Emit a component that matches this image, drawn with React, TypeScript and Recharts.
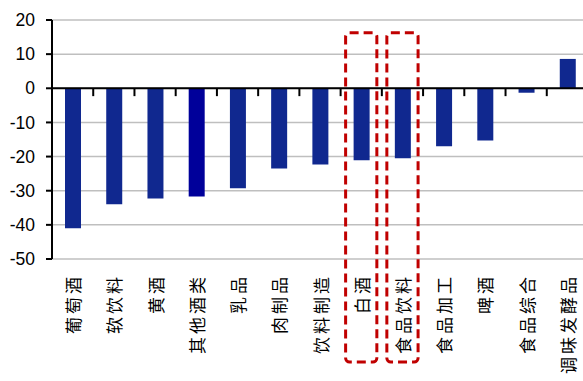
import { BarChart, Bar, XAxis, YAxis, CartesianGrid, ReferenceLine, ReferenceArea, Cell } from 'recharts';

// ---------------------------------------------------------------------------
// Data
// ---------------------------------------------------------------------------

const categories = [
  '葡萄酒',
  '软饮料',
  '黄酒',
  '其他酒类',
  '乳品',
  '肉制品',
  '饮料制造',
  '白酒',
  '食品饮料',
  '食品加工',
  '啤酒',
  '食品综合',
  '调味发酵品',
];

const changes = [-41, -34, -32.3, -31.7, -29.3, -23.5, -22.3, -21.1, -20.5, -17, -15.3, -1.3, 8.6];

const yTicks = [-50, -40, -30, -20, -10, 0, 10, 20];

// sectors boxed with the red dashed frame
const highlighted = ['白酒', '食品饮料'];

// the one sector drawn in a deeper blue
const deepSector = '其他酒类';

const data = categories.map((name, i) => ({ name, value: changes[i] }));

const BAR_COLOR = '#10288F';
const DEEP_COLOR = '#00009A';
const FRAME_COLOR = '#C00000';

// ---------------------------------------------------------------------------
// Pieces
// ---------------------------------------------------------------------------

function VerticalTick({ x, y, payload }: { x?: number; y?: number; payload?: { value: string } }) {
  if (x == null || y == null || !payload) return null;
  return (
    <text
      x={x}
      y={y}
      transform={`rotate(-90, ${x}, ${y})`}
      textAnchor="end"
      dominantBaseline="central"
      fontSize={17}
      style={{ letterSpacing: '3px' }}
      fill="#000"
      fontFamily='"Noto Sans CJK SC", sans-serif'
    >
      {payload.value}
    </text>
  );
}

function DashedFrame(props: { x?: number; y?: number; width?: number; height?: number }) {
  const { x = 0, y = 0, width = 0, height = 0 } = props;
  const inset = 5;
  return (
    <rect
      x={x + inset}
      y={y}
      width={width - inset * 2}
      height={height}
      rx={4}
      ry={4}
      fill="none"
      stroke={FRAME_COLOR}
      strokeWidth={3}
      strokeDasharray="9 5"
    />
  );
}

// ---------------------------------------------------------------------------
// App
// ---------------------------------------------------------------------------

export default function App() {
  return (
    <div style={{ position: 'absolute', left: 0, top: 0, width: 583, height: 381, overflow: 'hidden', background: '#fff' }}>
      <BarChart
        width={600}
        height={381}
        data={data}
        margin={{ top: 20, right: 12, bottom: 0, left: 0 }}
        barSize={16}
      >
        <CartesianGrid vertical={false} stroke="#BFBFBF" strokeWidth={1.5} />
        <XAxis
          dataKey="name"
          interval={0}
          height={122}
          axisLine={false}
          tickLine={false}
          tickSize={0}
          tickMargin={15}
          tick={<VerticalTick />}
        />
        <YAxis
          width={52}
          domain={[-50, 20]}
          ticks={yTicks}
          allowDataOverflow
          axisLine={{ stroke: '#000', strokeWidth: 2 }}
          tickLine={{ stroke: '#000', strokeWidth: 2 }}
          tickSize={6}
          tickMargin={11}
          tick={{ fontSize: 17.5, fill: '#000', fontFamily: '"Liberation Sans", Arial, sans-serif' }}
        />
        <Bar dataKey="value" isAnimationActive={false}>
          {data.map((d) => (
            <Cell key={d.name} fill={d.name === deepSector ? DEEP_COLOR : BAR_COLOR} />
          ))}
        </Bar>
        <ReferenceLine y={0} stroke="#000" strokeWidth={2} />
        {categories.slice(1).map((name) => (
          <ReferenceLine
            key={`tick-${name}`}
            position="start"
            segment={[
              { x: name, y: 0 },
              { x: name, y: -2.3 },
            ]}
            stroke="#000"
            strokeWidth={2}
          />
        ))}
        {highlighted.map((name) => (
          <ReferenceArea
            key={`frame-${name}`}
            x1={name}
            x2={name}
            y1={16.3}
            y2={-80.2}
            ifOverflow="visible"
            shape={<DashedFrame />}
          />
        ))}
      </BarChart>
    </div>
  );
}
